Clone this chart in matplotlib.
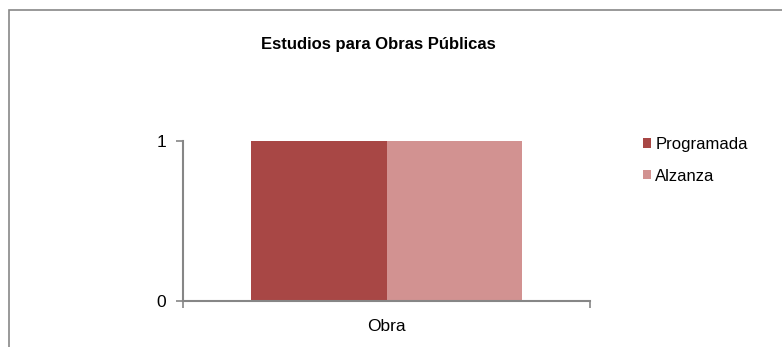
import matplotlib.pyplot as plt
from matplotlib.patches import Rectangle

categories = ["Obra"]
series_names = ["Programada", "Alzanza"]
series_values = [[1], [1]]
colors = ["#A84745", "#D29291"]
yticks = [0, 1]

plt.rcParams["font.family"] = ["Liberation Sans", "DejaVu Sans"]

fig = plt.figure(figsize=(7.82, 3.47), dpi=100)
ax = fig.add_axes([183 / 782, 1 - 301 / 347, (590 - 183) / 782, (301 - 141) / 347])

# grouped bars inside the single category slot
width = 0.334
offsets = [-width / 2, width / 2]
for name, vals, col, off in zip(series_names, series_values, colors, offsets):
    ax.bar([i + off for i in range(len(categories))], vals, width=width,
           color=col, label=name, zorder=2)

ax.set_xlim(-0.5, len(categories) - 0.5)
ax.set_ylim(0, 1)
ax.set_yticks(yticks)
ax.set_yticklabels([str(t) for t in yticks], fontsize=12.5)

# category boundary ticks on the x axis, labels at the centers
ax.set_xticks([i - 0.5 for i in range(len(categories) + 1)])
ax.set_xticklabels([])
ax.set_xticks(range(len(categories)), minor=True)
ax.set_xticklabels(categories, minor=True, fontsize=12.5)
ax.tick_params(axis="x", which="minor", length=0, pad=13)
ax.tick_params(axis="x", which="major", length=5, width=1.2, color="#868686")
ax.tick_params(axis="y", length=5, width=1.2, color="#868686", pad=7)

for side in ["top", "right"]:
    ax.spines[side].set_visible(False)
for side in ["left", "bottom"]:
    ax.spines[side].set_color("#868686")
    ax.spines[side].set_linewidth(1.5)

fig.text(378 / 782, 1 - 44 / 347, "Estudios para Obras Públicas", ha="center",
         va="center", fontsize=12, fontweight="bold")

fig.legend(loc="upper left", bbox_to_anchor=(643 / 782, 1 - 137 / 347),
           frameon=False, fontsize=12, handlelength=0.48, handleheight=0.48,
           handletextpad=0.25, labelspacing=1.0, borderpad=0, borderaxespad=0)

# outer chart border (runs off the right and bottom edges)
fig.patches.append(Rectangle((9 / 782, -0.1), 1.2, 1 - 10 / 347 + 0.1,
                             transform=fig.transFigure, fill=False,
                             edgecolor="#878787", linewidth=1.2))

fig.savefig("out.png", dpi=100)
